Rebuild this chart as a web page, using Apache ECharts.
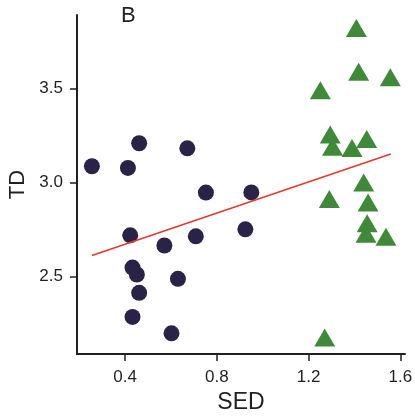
<!DOCTYPE html>
<html>
<head>
<meta charset="utf-8">
<script src="https://cdn.jsdelivr.net/npm/echarts@6/dist/echarts.min.js"></script>
<style>
  html, body { margin: 0; padding: 0; background: #fff; }
  #chart { width: 415px; height: 417px; }
</style>
</head>
<body>
<div id="chart"></div>
<script>
// group 1 (circles)
const circleSED = [0.255, 0.412, 0.461, 0.671, 0.752, 0.950, 0.422, 0.571, 0.708, 0.924, 0.432, 0.451, 0.630, 0.461, 0.432, 0.602];
const circleTD  = [3.087, 3.078, 3.209, 3.182, 2.947, 2.948, 2.720, 2.666, 2.715, 2.752, 2.549, 2.512, 2.489, 2.415, 2.287, 2.200];
// group 2 (triangles)
const triSED = [1.408, 1.418, 1.556, 1.251, 1.294, 1.304, 1.389, 1.453, 1.440, 1.290, 1.459, 1.455, 1.450, 1.537, 1.270];
const triTD  = [3.821, 3.589, 3.559, 3.490, 3.255, 3.191, 3.184, 3.232, 3.000, 2.913, 2.895, 2.784, 2.729, 2.712, 2.177];
// fitted line end points
const fitSED = [0.255, 1.558];
const fitTD  = [2.613, 3.152];
// tick labels
const xTicks = [0.4, 0.8, 1.2, 1.6];
const yTicks = [2.5, 3.0, 3.5];

const zip = (a, b) => a.map((v, i) => [v, b[i]]);
const axisColor = "#231f20";

const chart = echarts.init(document.getElementById("chart"));
chart.setOption({
  animation: false,
  grid: { left: 77, right: 10, top: 15, bottom: 63, containLabel: false, outerBoundsMode: "none" },
  xAxis: {
    type: "value",
    min: 0.19,
    max: 1.62,
    name: "SED",
    nameLocation: "middle",
    nameGap: 34,
    nameTextStyle: { fontFamily: "Liberation Sans", fontSize: 23, color: axisColor },
    splitLine: { show: false },
    axisLine: { lineStyle: { color: axisColor, width: 2 } },
    axisTick: { customValues: xTicks, length: 7, lineStyle: { color: axisColor, width: 1.5 } },
    axisLabel: {
      customValues: xTicks,
      margin: 15,
      fontFamily: "Liberation Sans",
      fontSize: 17,
      color: axisColor,
      formatter: (v) => v.toFixed(1),
    },
  },
  yAxis: {
    type: "value",
    min: 2.09,
    max: 3.89,
    name: "TD",
    nameLocation: "middle",
    nameGap: 40,
    nameTextStyle: { fontFamily: "Liberation Sans", fontSize: 22, color: axisColor },
    splitLine: { show: false },
    axisLine: { show: true, lineStyle: { color: axisColor, width: 2 } },
    axisTick: { show: true, customValues: yTicks, length: 7, lineStyle: { color: axisColor, width: 1.5 } },
    axisLabel: {
      customValues: yTicks,
      margin: 14,
      fontFamily: "Liberation Sans",
      fontSize: 17,
      color: axisColor,
      formatter: (v) => v.toFixed(1),
    },
  },
  graphic: [
    {
      type: "text",
      left: 121,
      top: 5,
      style: { text: "B", fontFamily: "Liberation Sans", fontSize: 22, fill: "#222" },
    },
  ],
  series: [
    {
      type: "line",
      data: zip(fitSED, fitTD),
      showSymbol: false,
      lineStyle: { color: "#e6392c", width: 1.6 },
      z: 3,
    },
    {
      type: "scatter",
      data: zip(circleSED, circleTD),
      symbol: "circle",
      symbolSize: 16,
      itemStyle: { color: "#2b2347", opacity: 1 },
      z: 2,
    },
    {
      type: "scatter",
      data: zip(triSED, triTD),
      symbol: "triangle",
      symbolSize: [21, 18],
      itemStyle: { color: "#3e8a39", opacity: 1 },
      z: 2,
    },
  ],
});
</script>
</body>
</html>
